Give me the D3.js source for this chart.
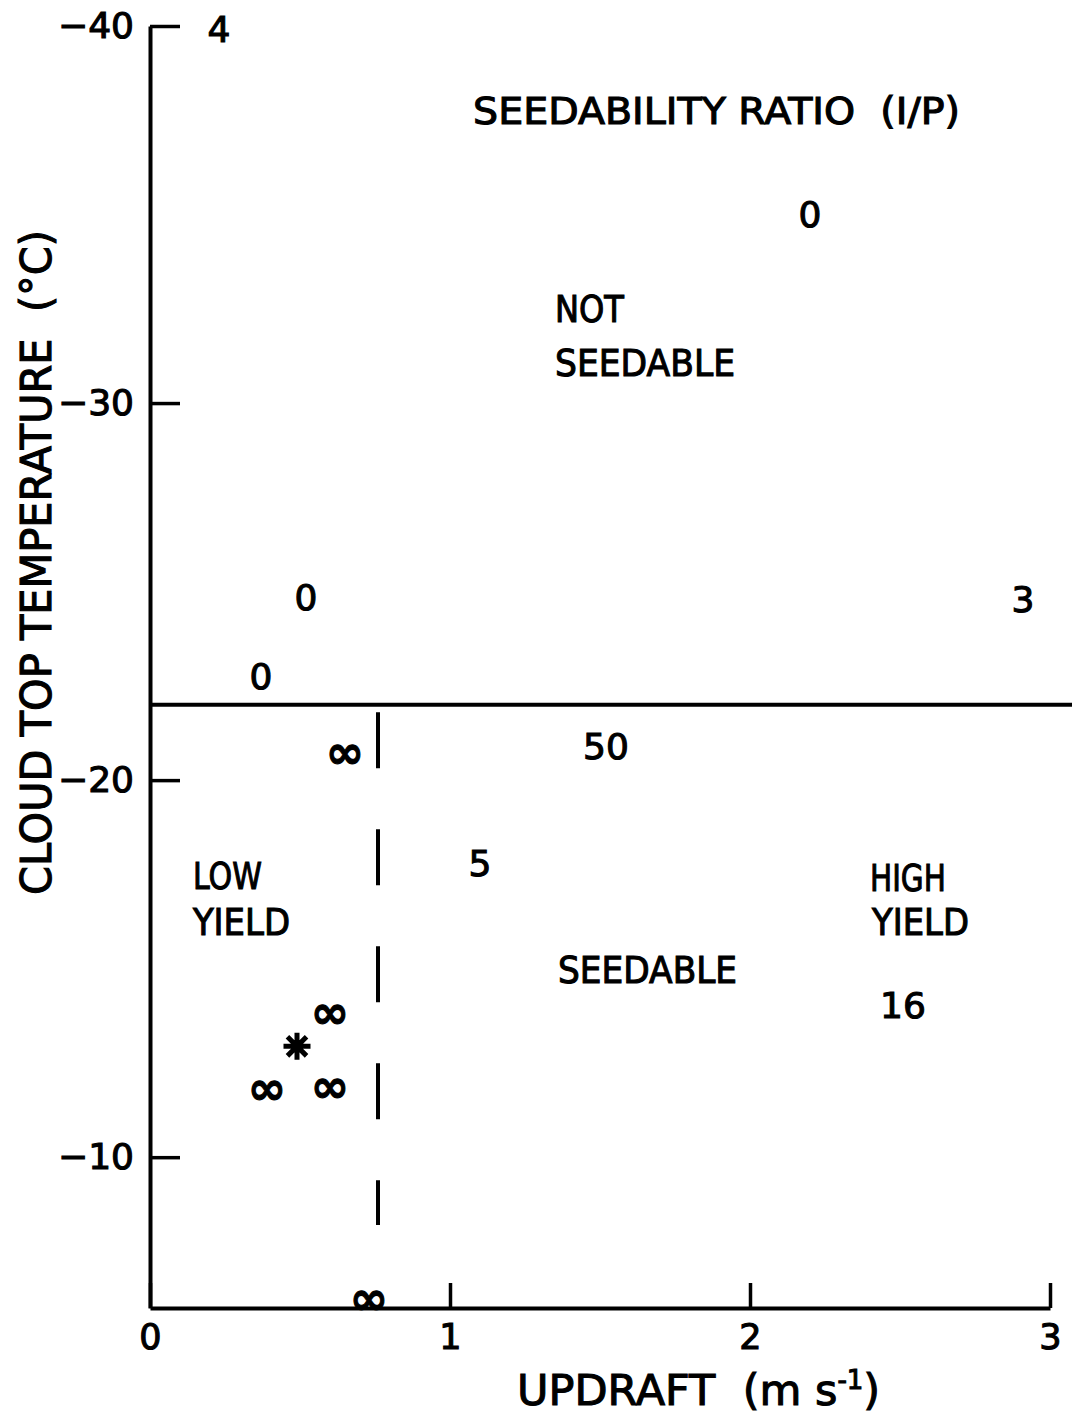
<!DOCTYPE html>
<html>
<head>
<meta charset="utf-8">
<script src="https://cdn.jsdelivr.net/npm/d3@7"></script>
<style>
  html, body { margin: 0; padding: 0; background: #fff; }
  text { font-family: "DejaVu Sans", sans-serif; fill: #000; stroke: #000; stroke-width: 1.1px; white-space: pre; }
</style>
</head>
<body>
<script>
// ---------- data ----------
const xTickValues = [0, 1, 2, 3];
const xTickLabels = ["0", "1", "2", "3"];
const yTickValues = [-40, -30, -20, -10];
const yTickLabels = ["\u221240", "\u221230", "\u221220", "\u221210"];

// each cell: updraft (m/s), cloud top temperature (C), seedability ratio label
const cellUpdraft = [0.23, 2.20, 0.52, 0.37, 2.91, 0.65, 1.52, 1.10, 0.60, 0.39, 0.60, 2.51, 0.73];
const cellTemp    = [-39.9, -35.0, -24.85, -22.76, -24.8, -20.74, -20.9, -17.8, -13.85, -11.83, -11.88, -14.03, -6.27];
const cellRatio   = ["4", "0", "0", "0", "3", "\u221E", "50", "5", "\u221E", "\u221E", "\u221E", "16", "\u221E"];

const starUpdraft = [0.49];
const starTemp    = [-12.94];

const seedTempThreshold = -22.0;
const seedUpdraftThreshold = 0.76;
const dashedTempRange = [-21.8, -8.2];

const regionLabels   = ["SEEDABILITY RATIO  (I/P)", "NOT", "SEEDABLE", "LOW", "YIELD", "HIGH", "YIELD", "SEEDABLE"];
const regionUpdraft  = [1.077, 1.35, 1.35, 0.143, 0.143, 2.40, 2.407, 1.36];
const regionTemp     = [-37.72, -32.47, -31.06, -17.45, -16.23, -17.40, -16.23, -14.96];
const regionUpdraftEnd = [2.70, 1.58, 1.95, 0.373, 0.467, 2.653, 2.73, 1.957];

// ---------- layout ----------
const W = 1072, H = 1414;
const x = d3.scaleLinear().domain([0, 3]).range([150, 1050]);
const y = d3.scaleLinear().domain([-6, -40]).range([1308, 26]);

const svg = d3.select("body").append("svg")
  .attr("width", W).attr("height", H)
  .style("display", "block");

// y axis
const yAxis = d3.axisLeft(y)
  .tickValues(yTickValues)
  .tickFormat((d, i) => yTickLabels[i])
  .tickSize(-30).tickSizeOuter(0).tickPadding(16);
const gy = svg.append("g").attr("transform", `translate(${x(0)},0)`).call(yAxis);
gy.select(".domain").attr("stroke", "#000").attr("stroke-width", 4);
gy.selectAll(".tick line").attr("stroke", "#000").attr("stroke-width", 3.5);
gy.selectAll(".tick text").attr("font-size", 36).attr("fill", "#000").attr("font-family", "DejaVu Sans");

// x axis
const xAxis = d3.axisBottom(x)
  .tickValues(xTickValues)
  .tickFormat((d, i) => xTickLabels[i])
  .tickSize(-25).tickSizeOuter(0).tickPadding(16);
const gx = svg.append("g").attr("transform", `translate(0,${y(-6)})`).call(xAxis);
gx.select(".domain").attr("stroke", "#000").attr("stroke-width", 4);
gx.selectAll(".tick line").attr("stroke", "#000").attr("stroke-width", 3.5);
gx.selectAll(".tick text").attr("font-size", 35).attr("fill", "#000").attr("font-family", "DejaVu Sans");

// threshold lines
svg.append("line")
  .attr("x1", x(0)).attr("x2", W)
  .attr("y1", y(seedTempThreshold)).attr("y2", y(seedTempThreshold))
  .attr("stroke", "#000").attr("stroke-width", 4);

svg.append("line")
  .attr("x1", x(seedUpdraftThreshold)).attr("x2", x(seedUpdraftThreshold))
  .attr("y1", y(dashedTempRange[0])).attr("y2", y(dashedTempRange[1]))
  .attr("stroke", "#000").attr("stroke-width", 4)
  .attr("stroke-dasharray", "56 61");

// cell labels
const cells = cellRatio.map((r, i) => ({ r, u: cellUpdraft[i], t: cellTemp[i] }));
svg.append("g").selectAll("text").data(cells).join("text")
  .attr("x", d => x(d.u))
  .attr("y", d => y(d.t))
  .attr("text-anchor", "middle")
  .attr("dominant-baseline", "central")
  .attr("font-size", d => d.r === "\u221E" ? 46 : 36)
  .attr("font-weight", d => d.r === "\u221E" ? "bold" : "normal")
  .text(d => d.r);

// asterisk
const star8 = {
  draw(ctx, size) {
    const r = Math.sqrt(size) / 2;
    for (let k = 0; k < 4; k++) {
      const a = k * Math.PI / 4;
      ctx.moveTo(-r * Math.cos(a), -r * Math.sin(a));
      ctx.lineTo(r * Math.cos(a), r * Math.sin(a));
    }
  }
};
svg.append("g").selectAll("path").data(starUpdraft.map((u, i) => ({ u, t: starTemp[i] }))).join("path")
  .attr("transform", d => `translate(${x(d.u)},${y(d.t)})`)
  .attr("d", d3.symbol().type(star8).size(27 * 27))
  .attr("stroke", "#000").attr("stroke-width", 5).attr("fill", "none");

// region labels
const regions = regionLabels.map((s, i) => ({ s, u: regionUpdraft[i], t: regionTemp[i], ue: regionUpdraftEnd[i] }));
svg.append("g").selectAll("text").data(regions).join("text")
  .attr("x", d => x(d.u))
  .attr("y", d => y(d.t))
  .attr("dominant-baseline", "central")
  .attr("font-size", 37)
  .attr("textLength", d => x(d.ue) - x(d.u))
  .attr("lengthAdjust", "spacingAndGlyphs")
  .text(d => d.s);

// axis titles
svg.append("text")
  .attr("transform", `translate(36,${(230 + 895) / 2}) rotate(-90)`)
  .attr("text-anchor", "middle")
  .attr("dominant-baseline", "central")
  .attr("font-size", 42)
  .attr("textLength", 665)
  .attr("lengthAdjust", "spacingAndGlyphs")
  .text("CLOUD TOP TEMPERATURE  (\u00B0C)");

const xt = svg.append("text")
  .attr("x", 517).attr("y", 1405)
  .attr("font-size", 43);
xt.append("tspan").text("UPDRAFT  (m s");
xt.append("tspan").attr("dy", -16).attr("font-size", 26).text("-1");
xt.append("tspan").attr("dy", 16).text(")");
</script>
</body>
</html>
